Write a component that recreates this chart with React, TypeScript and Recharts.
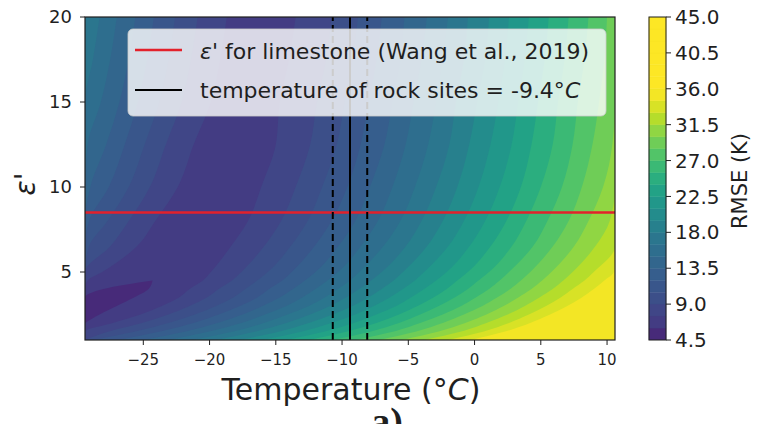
import React from "react";
import {
  ComposedChart,
  BarChart,
  Bar,
  Area,
  XAxis,
  YAxis,
  CartesianGrid,
  ReferenceLine,
} from "recharts";

const EPS_ROWS = [1, 1.5, 2, 2.5, 3, 3.5, 4, 4.5, 5, 6.5, 8, 10, 12.5, 15, 17.5, 20];

// filled contour levels, RMSE (K)
const RMSE_LEVELS = [6, 7.5, 9, 10.5, 12, 13.5, 15, 16.5, 18, 19.5, 21, 22.5, 24, 25.5, 27, 28.5, 30, 31.5, 33, 34.5];

// temperature (°C) where RMSE reaches each level, cold side of the valley (one row per level)
const COLD_EDGE = [
  [null, null, -29.4, -29.4, -29.4, -29.4, -28.0, -24.3, null, null, null, null, null, null, null, null],
  [-29.4, -29.4, -29.4, -29.4, -29.4, -29.4, -29.4, -29.2, -28.1, -25.5, -24.1, -22.4, -21.2, -19.9, -19.2, -18.7],
  [-29.4, -29.4, -29.4, -29.4, -29.4, -29.4, -29.4, -29.4, -29.4, -27.5, -26.1, -24.5, -23.3, -22.1, -21.4, -20.9],
  [-29.4, -29.4, -29.4, -29.4, -29.4, -29.4, -29.4, -29.4, -29.4, -29.1, -27.7, -26.1, -24.9, -23.8, -23.1, -22.6],
  [-29.4, -29.4, -29.4, -29.4, -29.4, -29.4, -29.4, -29.4, -29.4, -29.4, -29.1, -27.6, -26.4, -25.4, -24.7, -24.2],
  [-29.4, -29.4, -29.4, -29.4, -29.4, -29.4, -29.4, -29.4, -29.4, -29.4, -29.4, -29.0, -27.8, -26.8, -26.1, -25.6],
  [-29.4, -29.4, -29.4, -29.4, -29.4, -29.4, -29.4, -29.4, -29.4, -29.4, -29.4, -29.4, -29.2, -28.2, -27.5, -27.0],
  [-29.4, -29.4, -29.4, -29.4, -29.4, -29.4, -29.4, -29.4, -29.4, -29.4, -29.4, -29.4, -29.4, -29.4, -28.8, -28.3],
  [-29.4, -29.4, -29.4, -29.4, -29.4, -29.4, -29.4, -29.4, -29.4, -29.4, -29.4, -29.4, -29.4, -29.4, -29.4, -29.4],
  [-29.4, -29.4, -29.4, -29.4, -29.4, -29.4, -29.4, -29.4, -29.4, -29.4, -29.4, -29.4, -29.4, -29.4, -29.4, -29.4],
  [-29.4, -29.4, -29.4, -29.4, -29.4, -29.4, -29.4, -29.4, -29.4, -29.4, -29.4, -29.4, -29.4, -29.4, -29.4, -29.4],
  [-29.4, -29.4, -29.4, -29.4, -29.4, -29.4, -29.4, -29.4, -29.4, -29.4, -29.4, -29.4, -29.4, -29.4, -29.4, -29.4],
  [-29.4, -29.4, -29.4, -29.4, -29.4, -29.4, -29.4, -29.4, -29.4, -29.4, -29.4, -29.4, -29.4, -29.4, -29.4, -29.4],
  [-29.4, -29.4, -29.4, -29.4, -29.4, -29.4, -29.4, -29.4, -29.4, -29.4, -29.4, -29.4, -29.4, -29.4, -29.4, -29.4],
  [-29.4, -29.4, -29.4, -29.4, -29.4, -29.4, -29.4, -29.4, -29.4, -29.4, -29.4, -29.4, -29.4, -29.4, -29.4, -29.4],
  [-29.4, -29.4, -29.4, -29.4, -29.4, -29.4, -29.4, -29.4, -29.4, -29.4, -29.4, -29.4, -29.4, -29.4, -29.4, -29.4],
  [-29.4, -29.4, -29.4, -29.4, -29.4, -29.4, -29.4, -29.4, -29.4, -29.4, -29.4, -29.4, -29.4, -29.4, -29.4, -29.4],
  [-29.4, -29.4, -29.4, -29.4, -29.4, -29.4, -29.4, -29.4, -29.4, -29.4, -29.4, -29.4, -29.4, -29.4, -29.4, -29.4],
  [-29.4, -29.4, -29.4, -29.4, -29.4, -29.4, -29.4, -29.4, -29.4, -29.4, -29.4, -29.4, -29.4, -29.4, -29.4, -29.4],
  [-29.4, -29.4, -29.4, -29.4, -29.4, -29.4, -29.4, -29.4, -29.4, -29.4, -29.4, -29.4, -29.4, -29.4, -29.4, -29.4],
];

// same, warm side of the valley
const WARM_EDGE = [
  [null, null, -29.4, -28.3, -27.0, -25.7, -24.6, -24.3, null, null, null, null, null, null, null, null],
  [-29.4, -29.4, -27.3, -25.2, -23.6, -22.3, -21.5, -20.5, -19.9, -18.4, -17.1, -16.1, -15.0, -14.7, -14.0, -13.5],
  [-29.4, -27.6, -25.1, -23.1, -21.5, -20.2, -19.3, -18.3, -17.6, -15.9, -14.6, -13.5, -12.4, -11.9, -11.2, -10.8],
  [-28.8, -25.6, -23.1, -21.1, -19.5, -18.2, -17.3, -16.4, -15.6, -13.9, -12.6, -11.5, -10.4, -9.8, -9.2, -8.8],
  [-26.9, -23.7, -21.2, -19.3, -17.7, -16.4, -15.5, -14.5, -13.8, -12.1, -10.8, -9.6, -8.6, -8.0, -7.4, -7.0],
  [-25.0, -21.8, -19.4, -17.5, -16.0, -14.7, -13.7, -12.8, -12.0, -10.3, -9.0, -7.9, -6.8, -6.2, -5.6, -5.3],
  [-23.1, -20.0, -17.6, -15.8, -14.2, -13.0, -12.0, -11.1, -10.3, -8.6, -7.3, -6.2, -5.2, -4.6, -4.0, -3.6],
  [-21.3, -18.2, -15.9, -14.1, -12.5, -11.3, -10.3, -9.4, -8.7, -6.9, -5.6, -4.5, -3.5, -2.9, -2.4, -2.0],
  [-19.5, -16.5, -14.2, -12.4, -10.9, -9.7, -8.7, -7.8, -7.0, -5.2, -4.0, -2.9, -1.9, -1.4, -0.8, -0.5],
  [-17.8, -14.7, -12.5, -10.7, -9.2, -8.0, -7.0, -6.1, -5.4, -3.6, -2.4, -1.3, -0.4, 0.2, 0.8, 1.1],
  [-16.0, -13.0, -10.8, -9.0, -7.6, -6.4, -5.4, -4.5, -3.8, -2.0, -0.8, 0.3, 1.2, 1.8, 2.3, 2.6],
  [-14.2, -11.3, -9.1, -7.4, -5.9, -4.8, -3.8, -2.9, -2.1, -0.4, 0.8, 1.9, 2.8, 3.3, 3.8, 4.1],
  [-12.5, -9.6, -7.4, -5.7, -4.3, -3.1, -2.1, -1.3, -0.5, 1.2, 2.4, 3.5, 4.3, 4.8, 5.3, 5.6],
  [-10.7, -7.8, -5.7, -4.1, -2.7, -1.5, -0.5, 0.3, 1.1, 2.8, 3.9, 5.0, 5.9, 6.3, 6.8, 7.1],
  [-9.0, -6.1, -4.1, -2.4, -1.0, 0.1, 1.1, 1.9, 2.6, 4.4, 5.5, 6.6, 7.4, 7.8, 8.3, 8.6],
  [-7.2, -4.4, -2.4, -0.8, 0.6, 1.7, 2.7, 3.5, 4.2, 5.9, 7.1, 8.1, 8.9, 9.4, 9.8, 10.0],
  [-5.5, -2.7, -0.7, 0.9, 2.2, 3.3, 4.3, 5.1, 5.8, 7.5, 8.6, 9.7, 10.4, 10.6, 10.6, 10.6],
  [-3.8, -1.0, 0.9, 2.5, 3.8, 4.9, 5.9, 6.7, 7.4, 9.1, 10.2, 10.6, 10.6, 10.6, 10.6, 10.6],
  [-2.0, 0.7, 2.6, 4.1, 5.4, 6.5, 7.4, 8.3, 9.0, 10.6, 10.6, 10.6, 10.6, 10.6, 10.6, 10.6],
  [-0.3, 2.3, 4.2, 5.7, 7.0, 8.1, 9.0, 9.8, 10.5, 10.6, 10.6, 10.6, 10.6, 10.6, 10.6, 10.6],
];

const COLORBAR_LEVELS = [
  4.5, 6, 7.5, 9, 10.5, 12, 13.5, 15, 16.5, 18, 19.5, 21, 22.5, 24,
  25.5, 27, 28.5, 30, 31.5, 33, 34.5, 36, 37.5, 39, 40.5, 42, 43.5, 45,
];
const COLORBAR_TICKS = [4.5, 9, 13.5, 18, 22.5, 27, 31.5, 36, 40.5, 45];
const X_TICKS = [-25, -20, -15, -10, -5, 0, 5, 10];
const Y_TICKS = [5, 10, 15, 20];

const T_RANGE = [-29.4, 10.6];
const EPS_RANGE = [1, 20];
const EPS_LIMESTONE = 8.5;
const ROCK_TEMP = -9.4;
const ROCK_TEMP_BOUNDS = [-10.7, -8.1];

const FONT = "'DejaVu Sans', Verdana, sans-serif";
const INK = "#1f1f1f";

const VIRIDIS = [
  "#440154", "#482475", "#414487", "#355f8d", "#2a788e", "#21918c",
  "#22a884", "#44bf70", "#7ad151", "#bddf26", "#fde725",
];
// where an RMSE value sits on the colormap, as the colorbar shows it
const SHADE = [
  [4.5, 0.08], [6, 0.16], [7.5, 0.19], [9, 0.225], [13.5, 0.31], [18, 0.41],
  [22.5, 0.55], [27, 0.7], [31.5, 0.86], [34.5, 0.97], [36, 1],
];

function rgb(hex: string) {
  return [1, 3, 5].map((i) => parseInt(hex.slice(i, i + 2), 16));
}

function viridis(t: number) {
  const x = Math.max(0, Math.min(1, t)) * (VIRIDIS.length - 1);
  const i = Math.min(VIRIDIS.length - 2, Math.floor(x));
  const f = x - i;
  const a = rgb(VIRIDIS[i]);
  const b = rgb(VIRIDIS[i + 1]);
  return `rgb(${a.map((c, j) => Math.round(c + (b[j] - c) * f)).join(",")})`;
}

function shade(v: number) {
  if (v <= SHADE[0][0]) return viridis(SHADE[0][1]);
  for (let i = 1; i < SHADE.length; i++) {
    const [v0, t0] = SHADE[i - 1];
    const [v1, t1] = SHADE[i];
    if (v <= v1) return viridis(t0 + ((t1 - t0) * (v - v0)) / (v1 - v0));
  }
  return viridis(1);
}

const minus = (v: number) => (v < 0 ? `\u2212${Math.abs(v)}` : `${v}`);

const rows = EPS_ROWS.map((eps, i) => {
  const row: Record<string, any> = { eps };
  RMSE_LEVELS.forEach((_, k) => {
    const lo = COLD_EDGE[k][i];
    const hi = WARM_EDGE[k][i];
    row[`lv${k}`] = lo == null || hi == null ? null : [lo, hi];
  });
  return row;
});

// paint the widest region first, then the lower-RMSE regions over it
const paintOrder = RMSE_LEVELS.map((_, k) => k).reverse();

// colorbar: a transparent base up to the first level, then one stacked segment per band
const bands = COLORBAR_LEVELS.slice(0, -1).map((lv, i) => ({
  key: `b${i}`,
  size: COLORBAR_LEVELS[i + 1] - lv,
  color: shade((lv + COLORBAR_LEVELS[i + 1]) / 2),
}));
const colorbarRow: Record<string, any> = { cat: "RMSE", base: COLORBAR_LEVELS[0] };
bands.forEach((b) => {
  colorbarRow[b.key] = b.size;
});

export default function App() {
  return (
    <div style={{ position: "absolute", left: 0, top: 0, width: 759, height: 424, background: "#fff", overflow: "hidden" }}>
      <div style={{ position: "absolute", left: 0, top: 0 }}>
        <ComposedChart
          width={640}
          height={424}
          layout="vertical"
          data={rows}
          margin={{ top: 17, right: 25, bottom: 54, left: 25 }}
        >
          <CartesianGrid horizontal={false} vertical={false} fill={shade(35.25)} fillOpacity={1} />
          <XAxis
            type="number"
            domain={T_RANGE}
            allowDataOverflow
            ticks={X_TICKS}
            interval={0}
            tickFormatter={minus}
            height={30}
            axisLine={false}
            tickSize={5}
            tickMargin={9}
            tickLine={{ stroke: INK }}
            tick={{ fontSize: 15, fill: INK, fontFamily: FONT }}
          />
          <YAxis
            type="number"
            dataKey="eps"
            domain={EPS_RANGE}
            allowDataOverflow
            reversed
            ticks={Y_TICKS}
            interval={0}
            width={60}
            axisLine={false}
            tickSize={5}
            tickMargin={8}
            tickLine={{ stroke: INK }}
            tick={{ fontSize: 18, fill: INK, fontFamily: FONT }}
          />
          {paintOrder.map((k) => (
            <Area
              key={k}
              dataKey={`lv${k}`}
              type="monotone"
              stroke="none"
              fill={shade(RMSE_LEVELS[k] - 0.75)}
              fillOpacity={1}
              isAnimationActive={false}
            />
          ))}
          <ReferenceLine y={EPS_LIMESTONE} stroke="#e3212b" strokeWidth={2.6} />
          <ReferenceLine x={ROCK_TEMP} stroke="#000" strokeWidth={2} />
          {ROCK_TEMP_BOUNDS.map((t) => (
            <ReferenceLine key={t} x={t} stroke="#000" strokeWidth={2} strokeDasharray="7 4" />
          ))}
        </ComposedChart>
      </div>

      <div style={{ position: "absolute", left: 600, top: 0 }}>
        <BarChart
          width={159}
          height={424}
          data={[colorbarRow]}
          margin={{ top: 17, right: 33, bottom: 84, left: 49 }}
          barCategoryGap={0}
          barGap={0}
        >
          <XAxis type="category" dataKey="cat" hide />
          <YAxis
            type="number"
            orientation="right"
            domain={[4.5, 45]}
            allowDataOverflow
            ticks={COLORBAR_TICKS}
            interval={0}
            width={60}
            axisLine={false}
            tickSize={5}
            tickMargin={4}
            tickLine={{ stroke: INK }}
            tickFormatter={(v: number) => v.toFixed(1)}
            tick={{ fontSize: 20, fill: INK, fontFamily: FONT }}
          />
          <Bar dataKey="base" stackId="cb" fill="none" isAnimationActive={false} />
          {bands.map((b) => (
            <Bar key={b.key} dataKey={b.key} stackId="cb" fill={b.color} stroke={b.color} strokeWidth={0.5} isAnimationActive={false} />
          ))}
        </BarChart>
      </div>

      <svg width={759} height={424} style={{ position: "absolute", left: 0, top: 0, pointerEvents: "none" }} fontFamily={FONT}>
        <rect x={85} y={17} width={530} height={323} fill="none" stroke={INK} strokeWidth={1.2} />
        <rect x={649} y={17} width={17} height={323} fill="none" stroke={INK} strokeWidth={1} />

        <rect x={128} y={29} width={478} height={87} rx={5} fill="#ffffff" fillOpacity={0.8} stroke="#cccccc" strokeOpacity={0.8} />
        <line x1={135} x2={182} y1={50} y2={50} stroke="#e3212b" strokeWidth={2.6} />
        <text x={200} y={59} fontSize={22} fill={INK}>
          <tspan fontStyle="italic">ε</tspan>' for limestone (Wang et al., 2019)
        </text>
        <line x1={135} x2={182} y1={90} y2={90} stroke="#000" strokeWidth={2.2} />
        <text x={200} y={98} fontSize={22} fill={INK}>
          temperature of rock sites = -9.4°<tspan fontStyle="italic">C</tspan>
        </text>

        <text x={351} y={400} fontSize={30} fill={INK} textAnchor="middle">
          Temperature (°<tspan fontStyle="italic">C</tspan>)
        </text>
        <text x={35} y={184} fontSize={28} fill={INK} textAnchor="middle" transform="rotate(-90 35 184)">
          <tspan fontStyle="italic">ε</tspan>'
        </text>
        <text x={747} y={181} fontSize={21} fill={INK} textAnchor="middle" transform="rotate(-90 747 181)">
          RMSE (K)
        </text>
        <text x={387} y={434} fontSize={38} fill={INK} textAnchor="middle" fontFamily="'Liberation Serif', serif" fontWeight="bold">
          a)
        </text>
      </svg>
    </div>
  );
}
